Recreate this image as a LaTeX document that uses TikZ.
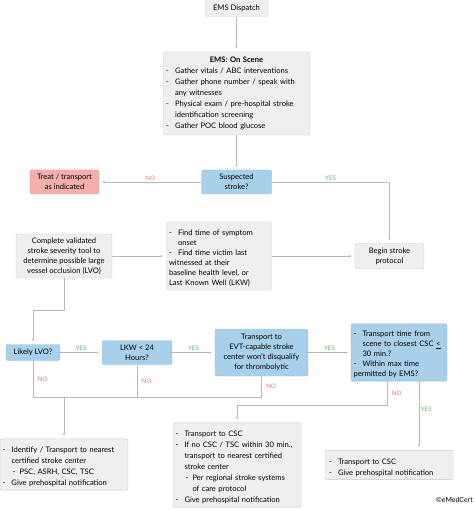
\documentclass[tikz,border=0pt]{standalone}
\usepackage{fontspec}
\setmainfont{Lato}
\usetikzlibrary{arrows.meta}
\definecolor{EMSGray}{RGB}{239,239,239}
\definecolor{EMSGrayLine}{RGB}{200,200,200}
\definecolor{EMSBlue}{RGB}{168,208,234}
\definecolor{EMSBlueLine}{RGB}{140,190,222}
\definecolor{EMSRed}{RGB}{244,175,171}
\definecolor{EMSRedLine}{RGB}{232,150,145}
\definecolor{EMSConn}{RGB}{185,185,185}
\definecolor{EMSNo}{RGB}{230,120,115}
\definecolor{EMSYes}{RGB}{90,180,100}
\newcommand{\dashitem}[1]{\par\hangindent=9pt\hangafter=1\noindent\hbox to 9pt{-\hfil}#1}
\newcommand{\dashsub}[1]{\par\hangindent=17pt\hangafter=1\noindent\hbox to 17pt{\hskip 10pt-\hfil}#1}

\begin{document}
\begin{tikzpicture}[x=1pt,y=-1pt,
box/.style={rectangle,rounded corners=2pt,draw=EMSGrayLine,fill=EMSGray,align=center,inner sep=3pt,font=\fontsize{7.6}{10}\selectfont},
listbox/.style={box,align=left,inner xsep=2.5pt},
ask/.style={box,draw=EMSBlueLine,fill=EMSBlue},
warn/.style={box,draw=EMSRedLine,fill=EMSRed},
arrow/.style={-{Latex[length=2.5pt,width=2.5pt]},draw=EMSConn,line width=0.6pt,shorten >=3pt},
wire/.style={draw=EMSConn,line width=0.6pt},
yes/.style={text=EMSYes,font=\fontsize{6.2}{7}\selectfont,inner sep=1.5pt},
no/.style={yes,text=EMSNo}]
\useasboundingbox (0,0) rectangle (474,510);
\node[box,minimum width=63,minimum height=17] (dispatch) at (236.5,8) {EMS Dispatch};
\node[listbox,text width=141,minimum height=83,font=\fontsize{7.6}{11}\selectfont] (scene) at (236.5,93.5) {{\centering\textbf{EMS: On Scene}\par}
\dashitem{Gather vitals / ABC interventions}
\dashitem{Gather phone number / speak with\newline any witnesses}
\dashitem{Physical exam / pre-hospital stroke\newline identification screening}
\dashitem{Gather POC blood glucose}};
\node[warn,minimum width=69,minimum height=24] (treat) at (64.5,182) {Treat / transport\\as indicated};
\node[ask,minimum width=70,minimum height=24] (suspect) at (236.5,182) {Suspected\\stroke?};
\node[box,minimum width=96,minimum height=44,inner xsep=1pt] (complete) at (64,256) {Complete validated\\stroke severity tool to\\determine possible large\\vessel occlusion (LVO)};
\node[listbox,text width=100,minimum height=68] (findtime) at (219,256) {\dashitem{Find time of symptom\newline onset}
\dashitem{Find time victim last\newline witnessed at their\newline baseline health level, or\newline Last Known Well (LKW)}};
\node[box,minimum width=69,minimum height=25] (begin) at (389.5,256) {Begin stroke\\protocol};
\node[ask,minimum width=54,minimum height=16] (lvo) at (33,352.5) {Likely LVO?};
\node[ask,minimum width=70,minimum height=24] (lkw) at (137,352.5) {LKW < 24\\Hours?};
\node[ask,minimum width=93,minimum height=47,inner xsep=1pt] (evt) at (261.5,352.5) {Transport to\\EVT-capable stroke\\center won't disqualify\\for thrombolytic};
\node[ask,align=left,inner xsep=2.5pt,text width=91,minimum height=55] (ttime) at (399,352.5) {\dashitem{Transport time from\newline scene to closest CSC~\underline{<}\newline 30 min.?}
\dashitem{Within max time\newline permitted by EMS?}};
\node[listbox,text width=123,minimum height=51,font=\fontsize{7.6}{11}\selectfont] (identify) at (64,464.5) {\dashitem{Identify / Transport to nearest\newline certified stroke center}
\dashsub{PSC, ASRH, CSC, TSC}
\dashitem{Give prehospital notification}};
\node[listbox,text width=123,minimum height=84,font=\fontsize{7.6}{11}\selectfont] (mid) at (237,465) {\dashitem{Transport to CSC}
\dashitem{If no CSC / TSC within 30 min.,\newline transport to nearest certified\newline stroke center}
\dashsub{Per regional stroke systems\newline of care protocol}
\dashitem{Give prehospital notification}};
\node[listbox,text width=120,inner xsep=4pt,minimum height=28,font=\fontsize{7.6}{11}\selectfont] (right) at (389,465) {\dashitem{Transport to CSC}
\dashitem{Give prehospital notification}};
\node[font=\fontsize{7}{8}\selectfont,anchor=east,inner sep=1pt] (copy) at (474,500) {©eMedCert};
% connectors
\foreach \x/\y in {dispatch/scene,scene/suspect,complete/findtime,findtime/begin}{\draw[arrow] (\x)--(\y);}
\foreach \x/\y in {lvo/lkw,lkw/evt,evt/ttime}{\draw[arrow] (\x)--node[yes,above]{YES}(\y);}
\draw[arrow] (suspect)--node[no,above]{NO}(treat);
\draw[arrow] (suspect.east)-|node[yes,above,pos=0.25]{YES}(begin.north);
\coordinate (lvobend) at (64,310);
\draw[arrow] (complete.south)--(lvobend)-|(lvo.north);
\coordinate (nobus) at (64,397);
\draw[wire] (lvo.south)--node[no,right,xshift=3pt]{NO}(lvo.south|-nobus)--(evt.south|-nobus)--node[no,right,xshift=3pt]{NO}(evt.south);
\draw[wire] (lkw.south)--node[no,right,xshift=3pt]{NO}(lkw.south|-nobus);
\draw[arrow] (nobus)--(identify.north);
\coordinate (midbend) at (237,405);
\draw[arrow] ([xshift=-12pt]ttime.south)--node[no,right,xshift=3pt]{NO}([xshift=-12pt]ttime.south|-midbend)--(midbend)--(mid.north);
\draw[arrow] ([xshift=20pt]ttime.south)--node[yes,right,pos=0.4]{YES}([xshift=20pt]ttime.south|-right.north);
\end{tikzpicture}
\end{document}
